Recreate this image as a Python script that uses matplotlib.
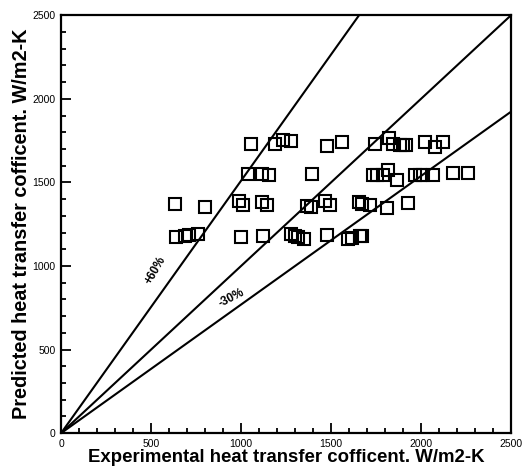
import numpy as np
import matplotlib
matplotlib.use('Agg')
import matplotlib.pyplot as plt
from matplotlib.ticker import MultipleLocator

plt.rcParams['font.family'] = ['Liberation Sans', 'DejaVu Sans']

# experimental vs predicted heat transfer coefficient (W/m2-K)
h_exp = [1056, 1189, 1233, 1275, 1478, 1559, 1744, 1824, 1846, 1883, 1902, 1917, 2022, 2078, 2124,
         1041, 1115, 1156, 1396, 1735, 1754, 1787, 1818, 1865, 1967, 1994, 2013, 2068, 2176, 2259,
         633, 800, 987, 1013, 1117, 1143, 1365, 1389, 1469, 1494, 1657, 1671, 1717, 1813, 1929,
         639, 689, 713, 763, 1000, 1124, 1278, 1300, 1315, 1352, 1476, 1596, 1615, 1661, 1670]
h_pred = [1727, 1727, 1752, 1748, 1716, 1739, 1728, 1763, 1728, 1722, 1722, 1722, 1742, 1712, 1739,
          1553, 1549, 1543, 1553, 1547, 1543, 1543, 1573, 1513, 1543, 1547, 1543, 1547, 1557, 1559,
          1368, 1353, 1391, 1364, 1382, 1367, 1361, 1353, 1388, 1364, 1380, 1368, 1364, 1347, 1374,
          1174, 1181, 1184, 1194, 1174, 1178, 1194, 1181, 1174, 1164, 1184, 1164, 1170, 1178, 1180]

# error band slopes: upper, parity, lower
slopes = [1.51, 1.0, 1 / 1.3]
band_labels = ['+60%', '-30%']

fig = plt.figure(figsize=(5.22, 4.76), dpi=100)
ax = fig.add_axes([0.117, 0.090, 0.862, 0.878])

xl = np.array([0, 2500])
for s in slopes:
    ax.plot(xl, s * xl, color='black', lw=1.5)

ax.plot(h_exp, h_pred, 's', ms=8.5, mfc='none', mec='black', mew=1.5, ls='none')

ax.text(522, 975, band_labels[0], rotation=60, fontsize=8.5, fontweight='bold',
        ha='center', va='center')
ax.text(945, 810, band_labels[1], rotation=27, fontsize=8.5, fontweight='bold',
        ha='center', va='center')

ax.set_xlim(0, 2500)
ax.set_ylim(0, 2500)
ax.xaxis.set_major_locator(MultipleLocator(500))
ax.yaxis.set_major_locator(MultipleLocator(500))
ax.xaxis.set_minor_locator(MultipleLocator(100))
ax.yaxis.set_minor_locator(MultipleLocator(100))
ax.tick_params(which='both', direction='in', top=False, right=False, labelsize=7.5, width=1.3)
ax.tick_params(which='major', length=7, pad=4)
ax.tick_params(which='minor', length=3.5)
for sp in ax.spines.values():
    sp.set_linewidth(1.6)

ax.set_xlabel('Experimental heat transfer cofficent. W/m2-K', fontsize=13.4,
              fontweight='bold', labelpad=0)
ax.set_ylabel('Predicted heat transfer cofficent. W/m2-K', fontsize=14.3,
              fontweight='bold', labelpad=1)

fig.savefig('out.png', dpi=100)
